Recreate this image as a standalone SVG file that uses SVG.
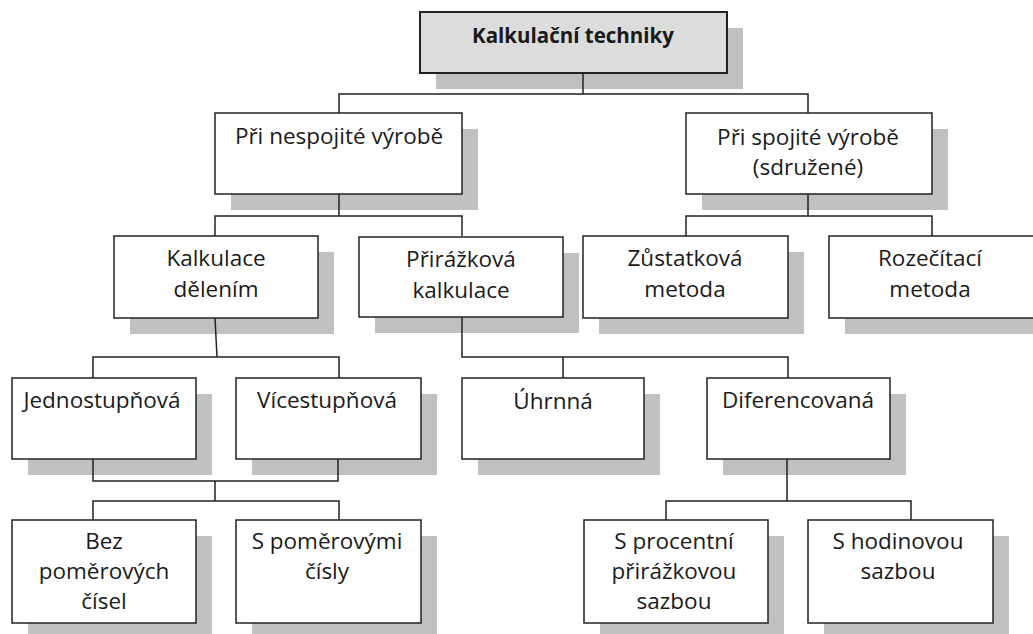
<svg xmlns="http://www.w3.org/2000/svg" width="1033" height="634" viewBox="0 0 1033 634">
  <style>
    .box { fill: #ffffff; stroke: #222222; stroke-width: 1.5; }
    .root { fill: #dcdcdc; stroke: #222222; stroke-width: 2; }
    .shadow { fill: #c0c0c0; }
    .lbl { font-family: "Open Sans", "Noto Sans", sans-serif; font-size: 22.5px; fill: #1a1a1a; text-anchor: middle; }
    .bold { font-weight: bold; font-size: 20.5px; }
    .wire { fill: none; stroke: #222222; stroke-width: 1.5; }
  </style>

  <!-- root -->
  <g id="kalkulacni-techniky">
    <rect class="shadow" x="436" y="28" width="307" height="61"/>
    <rect class="root" x="420" y="12" width="307" height="61"/>
    <text class="lbl bold" x="573" y="43">Kalkulační techniky</text>
  </g>

  <!-- level 1 -->
  <g id="pri-nespojite">
    <rect class="shadow" x="231" y="129" width="247" height="81"/>
    <rect class="box" x="215" y="113" width="247" height="81"/>
    <text class="lbl" x="339" y="144">Při nespojité výrobě</text>
  </g>
  <g id="pri-spojite">
    <rect class="shadow" x="702" y="129" width="246" height="81"/>
    <rect class="box" x="686" y="113" width="246" height="81"/>
    <text class="lbl" x="808" y="145">Při spojité výrobě</text>
    <text class="lbl" x="808" y="175">(sdružené)</text>
  </g>

  <!-- level 2 -->
  <g id="kalkulace-delenim">
    <rect class="shadow" x="130" y="252" width="204" height="82"/>
    <rect class="box" x="114" y="236" width="204" height="82"/>
    <text class="lbl" x="216" y="266">Kalkulace</text>
    <text class="lbl" x="216" y="297">dělením</text>
  </g>
  <g id="prirazkova-kalkulace">
    <rect class="shadow" x="375" y="253" width="204" height="80"/>
    <rect class="box" x="359" y="237" width="204" height="80"/>
    <text class="lbl" x="461" y="267">Přirážková</text>
    <text class="lbl" x="461" y="298">kalkulace</text>
  </g>
  <g id="zustatkova-metoda">
    <rect class="shadow" x="599" y="252" width="205" height="82"/>
    <rect class="box" x="583" y="236" width="205" height="82"/>
    <text class="lbl" x="685" y="266">Zůstatková</text>
    <text class="lbl" x="685" y="297">metoda</text>
  </g>
  <g id="rozecitaci-metoda">
    <rect class="shadow" x="845" y="252" width="206" height="82"/>
    <rect class="box" x="829" y="236" width="206" height="82"/>
    <text class="lbl" x="930" y="266">Rozečítací</text>
    <text class="lbl" x="930" y="297">metoda</text>
  </g>

  <!-- level 3 -->
  <g id="jednostupnova">
    <rect class="shadow" x="28" y="394" width="184" height="81"/>
    <rect class="box" x="12" y="378" width="184" height="81"/>
    <text class="lbl" x="102" y="408">Jednostupňová</text>
  </g>
  <g id="vicestupnova">
    <rect class="shadow" x="252" y="394" width="185" height="81"/>
    <rect class="box" x="236" y="378" width="185" height="81"/>
    <text class="lbl" x="327" y="408">Vícestupňová</text>
  </g>
  <g id="uhrnna">
    <rect class="shadow" x="478" y="394" width="182" height="81"/>
    <rect class="box" x="462" y="378" width="182" height="81"/>
    <text class="lbl" x="553" y="409">Úhrnná</text>
  </g>
  <g id="diferencovana">
    <rect class="shadow" x="723" y="394" width="183" height="81"/>
    <rect class="box" x="707" y="378" width="183" height="81"/>
    <text class="lbl" x="798" y="408">Diferencovaná</text>
  </g>

  <!-- level 4 -->
  <g id="bez-pomerovych-cisel">
    <rect class="shadow" x="28" y="536" width="184" height="103"/>
    <rect class="box" x="12" y="520" width="184" height="103"/>
    <text class="lbl" x="104" y="549">Bez</text>
    <text class="lbl" x="104" y="579">poměrových</text>
    <text class="lbl" x="104" y="609">čísel</text>
  </g>
  <g id="s-pomerovymi-cisly">
    <rect class="shadow" x="252" y="536" width="185" height="103"/>
    <rect class="box" x="236" y="520" width="185" height="103"/>
    <text class="lbl" x="327" y="549">S poměrovými</text>
    <text class="lbl" x="327" y="579">čísly</text>
  </g>
  <g id="s-procentni-sazbou">
    <rect class="shadow" x="600" y="536" width="184" height="103"/>
    <rect class="box" x="584" y="520" width="184" height="103"/>
    <text class="lbl" x="674" y="549">S procentní</text>
    <text class="lbl" x="674" y="579">přirážkovou</text>
    <text class="lbl" x="674" y="609">sazbou</text>
  </g>
  <g id="s-hodinovou-sazbou">
    <rect class="shadow" x="824" y="536" width="185" height="103"/>
    <rect class="box" x="808" y="520" width="185" height="103"/>
    <text class="lbl" x="898" y="549">S hodinovou</text>
    <text class="lbl" x="898" y="579">sazbou</text>
  </g>

  <!-- elbow connectors, drawn over the drop shadows -->
  <g id="connectors" class="wire">
    <path d="M583 73 V94 M339 113 V94 H808 V113"/>
    <path d="M339 194 V216 M215 236 V216 H462 V236"/>
    <path d="M808 194 V216 M686 236 V216 H932 V236"/>
    <path d="M215 318 L217 357 M93 378 V357 H339 V378"/>
    <path d="M462 317 V357 H788 V378 M563 357 V378"/>
    <path d="M93 459 V481 H338 V459 M215 481 V501 M93 520 V501 H339 V520"/>
    <path d="M787 459 V501 M666 520 V501 H911 V520"/>
  </g>
</svg>
